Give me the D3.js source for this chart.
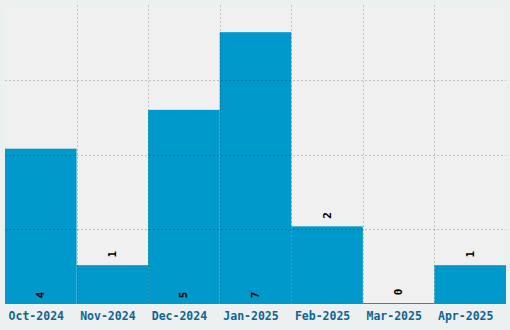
<!DOCTYPE html>
<html lang="en">
<head>
<meta charset="UTF-8">
<script src="https://d3js.org/d3.v7.min.js"></script>
<title>Monthly counts</title>
<style>
  html, body { margin: 0; padding: 0; background: #ecf0f1; }
  svg { display: block; }
</style>
</head>
<body>
<script>
var months = ["Oct-2024", "Nov-2024", "Dec-2024", "Jan-2025", "Feb-2025", "Mar-2025", "Apr-2025"];
var counts = [4, 1, 5, 7, 2, 0, 1];

var width = 510, height = 330;
var margin = { top: 5, right: 4, bottom: 26, left: 5 };
var plotW = width - margin.left - margin.right;
var plotH = height - margin.top - margin.bottom;

var svg = d3.select("body").append("svg")
  .attr("width", width)
  .attr("height", height);

var g = svg.append("g")
  .attr("transform", "translate(" + margin.left + "," + margin.top + ")");

var x = d3.scaleBand().domain(months).range([0, plotW]).padding(0);
var yMax = d3.max(counts) * 1.1;
var y = d3.scaleLinear().domain([0, yMax]).range([plotH, 0]);

g.append("rect")
  .attr("width", plotW)
  .attr("height", plotH)
  .attr("fill", "#f0f0f0");

// bars
g.selectAll("rect.bar")
  .data(counts)
  .enter().append("rect")
  .attr("class", "bar")
  .attr("x", function (d, i) { return x(months[i]); })
  .attr("width", x.bandwidth())
  .attr("y", function (d) { return Math.min(y(d), plotH - 1); })
  .attr("height", function (d) { return Math.max(plotH - y(d), 1); })
  .attr("fill", "#0099cc");

// grid over bars
var gridTicks = [1, 2, 3].map(function (k) { return yMax * k / 4; });
g.selectAll("line.hgrid")
  .data(gridTicks)
  .enter().append("line")
  .attr("class", "hgrid")
  .attr("x1", 0).attr("x2", plotW)
  .attr("y1", function (d) { return Math.round(y(d)) + 0.5; })
  .attr("y2", function (d) { return Math.round(y(d)) + 0.5; })
  .attr("stroke", "rgba(0,0,0,0.2)")
  .attr("stroke-dasharray", "2,2");

g.selectAll("line.vgrid")
  .data(months.slice(1))
  .enter().append("line")
  .attr("class", "vgrid")
  .attr("x1", function (d) { return Math.round(x(d)) + 0.5; })
  .attr("x2", function (d) { return Math.round(x(d)) + 0.5; })
  .attr("y1", 0).attr("y2", plotH)
  .attr("stroke", "rgba(0,0,0,0.2)")
  .attr("stroke-dasharray", "2,2");

// value labels
g.selectAll("text.val")
  .data(counts)
  .enter().append("text")
  .attr("class", "val")
  .attr("transform", function (d, i) {
    var cx = x(months[i]) + x.bandwidth() / 2;
    var h = plotH - y(d);
    var cy = h > 100 ? plotH - 9 : Math.min(y(d), plotH - 1) - 11;
    return "translate(" + cx + "," + cy + ") rotate(-90)";
  })
  .attr("text-anchor", "middle")
  .attr("dominant-baseline", "central")
  .attr("font-family", "DejaVu Sans Mono, monospace")
  .attr("font-weight", "bold")
  .attr("font-size", "11px")
  .attr("fill", "#000")
  .text(function (d) { return d; });

// x axis labels
var xAxis = d3.axisBottom(x).tickSize(0).tickPadding(6);
var ax = g.append("g")
  .attr("transform", "translate(0," + plotH + ")")
  .call(xAxis);
ax.select(".domain").remove();
ax.selectAll("text")
  .attr("x", -4.5)
  .attr("dy", "0.9em")
  .attr("font-family", "DejaVu Sans Mono, monospace")
  .attr("font-weight", "bold")
  .attr("font-size", "11.5px")
  .attr("fill", "#0f6596");
</script>
</body>
</html>
